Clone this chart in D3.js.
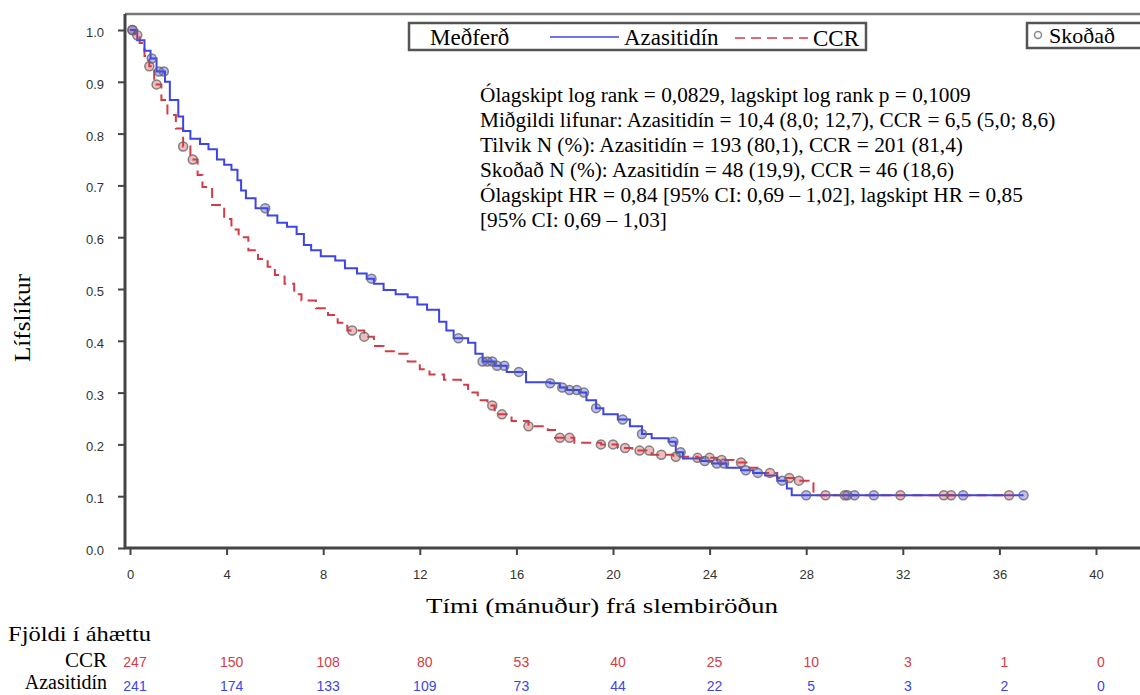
<!DOCTYPE html>
<html><head><meta charset="utf-8">
<script src="https://cdn.jsdelivr.net/npm/d3@7"></script>
<style>
html,body{margin:0;padding:0;background:#fff;}
svg{display:block;}
</style></head>
<body>
<svg id="chart" width="1140" height="695"></svg>
<script>
// ---------- data ----------
const azaTime = [0,0.3,0.6,0.85,1.1,1.45,1.65,2.0,2.2,2.5,2.9,3.25,3.6,3.9,4.2,4.45,4.6,4.8,5.2,5.7,6.1,6.5,6.9,7.2,7.5,7.9,8.5,8.9,9.4,9.8,10.1,10.5,11.0,11.5,11.9,12.3,12.8,13.1,13.4,14.0,14.3,14.6,15.1,15.6,16.4,17.4,17.8,18.1,18.6,18.9,19.3,19.6,20.2,20.7,21.2,21.6,22.3,22.6,22.9,23.6,24.1,24.7,25.3,25.8,26.3,26.8,27.2,27.4,37.0];
const azaSurv = [1.0,0.98,0.96,0.945,0.92,0.90,0.865,0.833,0.805,0.79,0.78,0.77,0.75,0.74,0.73,0.71,0.69,0.675,0.656,0.642,0.628,0.62,0.606,0.585,0.575,0.563,0.555,0.54,0.53,0.52,0.51,0.498,0.49,0.484,0.47,0.46,0.437,0.42,0.405,0.396,0.375,0.36,0.352,0.34,0.32,0.318,0.31,0.305,0.30,0.285,0.27,0.258,0.248,0.235,0.22,0.212,0.205,0.185,0.173,0.168,0.163,0.155,0.15,0.145,0.14,0.13,0.115,0.102,0.102];
const ccrTime = [0,0.2,0.4,0.6,0.8,1.0,1.3,1.55,1.9,2.2,2.5,2.8,3.0,3.4,3.9,4.2,4.5,4.9,5.3,5.7,6.0,6.4,6.8,7.1,7.7,8.2,8.6,9.0,9.7,10.1,10.5,11.0,11.5,12.0,12.4,13.0,13.7,14.0,14.4,14.8,15.1,15.8,16.5,17.3,17.6,18.4,19.5,20.2,20.8,21.6,22.5,23.5,24.3,25.0,25.6,26.1,26.8,27.5,28.1,28.3,36.4];
const ccrSurv = [1.0,0.99,0.975,0.95,0.93,0.895,0.865,0.836,0.81,0.775,0.75,0.72,0.697,0.662,0.635,0.615,0.60,0.575,0.558,0.543,0.527,0.51,0.49,0.478,0.463,0.45,0.435,0.42,0.408,0.39,0.38,0.375,0.36,0.345,0.335,0.325,0.315,0.30,0.285,0.275,0.258,0.245,0.235,0.228,0.213,0.203,0.20,0.193,0.188,0.18,0.176,0.174,0.17,0.165,0.155,0.145,0.135,0.13,0.125,0.102,0.102];
const azaCensor = [0.1,0.9,1.2,1.4,5.6,10.0,13.6,14.6,14.8,15.0,15.2,15.5,16.1,17.4,17.9,18.2,18.5,18.8,19.3,20.4,21.2,22.5,22.8,23.8,24.3,24.6,25.5,26.0,27.0,28.0,29.7,30.0,30.8,34.5,37.0];
const ccrCensor = [0.1,0.3,0.8,1.1,2.2,2.6,9.2,9.7,15.0,15.4,16.5,17.8,18.2,19.5,20.0,20.5,21.1,21.5,22.0,22.6,23.5,24.0,24.5,25.3,26.5,27.3,27.7,28.8,29.6,31.9,33.7,34.0,36.4];
const xTicks = [0,4,8,12,16,20,24,28,32,36,40];
const yTicks = [0,0.1,0.2,0.3,0.4,0.5,0.6,0.7,0.8,0.9,1.0];
const riskCCR = [247,150,108,80,53,40,25,10,3,1,0];
const riskAza = [241,174,133,109,73,44,22,5,3,2,0];
const statLines = [
  "Ólagskipt log rank = 0,0829, lagskipt log rank p = 0,1009",
  "Miðgildi lifunar: Azasitidín = 10,4 (8,0; 12,7), CCR = 6,5 (5,0; 8,6)",
  "Tilvik N (%): Azasitidín = 193 (80,1), CCR = 201 (81,4)",
  "Skoðað N (%): Azasitidín = 48 (19,9), CCR = 46 (18,6)",
  "Ólagskipt HR = 0,84 [95% CI: 0,69 – 1,02], lagskipt HR = 0,85",
  "[95% CI: 0,69 – 1,03]"
];

// ---------- drawing ----------
const SERIF = "'Liberation Serif','Times New Roman','DejaVu Serif',serif";
const SANS = "'Liberation Sans',Arial,'DejaVu Sans',sans-serif";
const BLUE = "#3d45e6", RED = "#d23c46";
const svg = d3.select("#chart");
const x = d3.scaleLinear().domain([0,40]).range([130,1096]);
const y = d3.scaleLinear().domain([0,1]).range([548,30]);

function survAt(times, surv, t){
  const i = d3.bisectRight(times, t) - 1;
  return surv[Math.max(0, i)];
}
function stext(sel){ return sel.style("font-family", SERIF).attr("fill","#000"); }

// axes
const yAxis = svg.append("g").attr("transform","translate(125,0)")
  .call(d3.axisLeft(y).tickValues(yTicks).tickFormat(d3.format(".1f")).tickSize(7).tickPadding(14));
const xAxis = svg.append("g").attr("transform","translate(0,548)")
  .call(d3.axisBottom(x).tickValues(xTicks).tickSize(7).tickPadding(15));
[yAxis,xAxis].forEach(g=>{
  g.select(".domain").remove();
  g.selectAll(".tick line").attr("stroke","#444").attr("stroke-width",2);
  g.selectAll(".tick text").style("font-family",SANS).attr("font-size",13).attr("fill","#333");
});
yAxis.selectAll(".tick text").attr("dy","0.5em");

// frame
svg.append("line").attr("x1",125).attr("y1",14).attr("x2",1140).attr("y2",14).attr("stroke","#777").attr("stroke-width",2.5);
svg.append("line").attr("x1",125).attr("y1",14).attr("x2",125).attr("y2",549).attr("stroke","#444").attr("stroke-width",3);
svg.append("line").attr("x1",124).attr("y1",548).attr("x2",1140).attr("y2",548).attr("stroke","#444").attr("stroke-width",3);

// curves
const line = d3.line().x(d=>x(d[0])).y(d=>y(d[1])).curve(d3.curveStepAfter);
svg.append("path").datum(ccrTime.map((t,i)=>[t,ccrSurv[i]]))
  .attr("d",line).attr("fill","none").attr("stroke",RED).attr("stroke-width",2).attr("stroke-dasharray","10,6");
svg.append("path").datum(azaTime.map((t,i)=>[t,azaSurv[i]]))
  .attr("d",line).attr("fill","none").attr("stroke",BLUE).attr("stroke-width",2);

// censor marks
function censor(times, surv, cens, col){
  svg.append("g").selectAll("circle").data(cens).join("circle")
    .attr("cx",d=>x(d)).attr("cy",d=>y(survAt(times,surv,d)))
    .attr("r",4.5).attr("fill",col).attr("fill-opacity",0.35)
    .attr("stroke","#666").attr("stroke-opacity",0.8).attr("stroke-width",1.5);
}
censor(ccrTime, ccrSurv, ccrCensor, RED);
censor(azaTime, azaSurv, azaCensor, BLUE);

// legend
svg.append("rect").attr("x",409).attr("y",23).attr("width",457).attr("height",27)
  .attr("fill","#fff").attr("stroke","#555").attr("stroke-width",2.5);
stext(svg.append("text")).attr("x",430).attr("y",45).attr("font-size",23).text("Meðferð");
svg.append("line").attr("x1",550).attr("x2",619).attr("y1",37).attr("y2",37).attr("stroke",BLUE).attr("stroke-width",1.5);
stext(svg.append("text")).attr("x",624).attr("y",45).attr("font-size",23).text("Azasitidín");
svg.append("line").attr("x1",735).attr("x2",808).attr("y1",38).attr("y2",38).attr("stroke",RED).attr("stroke-width",1.5).attr("stroke-dasharray","10,6");
stext(svg.append("text")).attr("x",813).attr("y",46).attr("font-size",23).text("CCR");

svg.append("rect").attr("x",1027).attr("y",23).attr("width",130).attr("height",25)
  .attr("fill","#fff").attr("stroke","#555").attr("stroke-width",2.5);
svg.append("circle").attr("cx",1038).attr("cy",35).attr("r",3.5).attr("fill","none").attr("stroke","#888").attr("stroke-width",1.5);
stext(svg.append("text")).attr("x",1049).attr("y",43).attr("font-size",22).text("Skoðað");

// stats text
stext(svg.append("g").selectAll("text").data(statLines).join("text"))
  .attr("x",480).attr("y",(d,i)=>102+i*25)
  .attr("font-size",21.3).text(d=>d);

// axis titles
stext(svg.append("text")).attr("x",426).attr("y",613)
  .attr("font-size",22).attr("textLength",352).attr("lengthAdjust","spacingAndGlyphs")
  .text("Tími (mánuður) frá slembiröðun");
stext(svg.append("text")).attr("transform","translate(30,362) rotate(-90)")
  .attr("font-size",23).attr("textLength",88).attr("lengthAdjust","spacingAndGlyphs").text("Lífslíkur");

// risk table
stext(svg.append("text")).attr("x",8).attr("y",641).attr("font-size",21)
  .attr("textLength",143).attr("lengthAdjust","spacingAndGlyphs").text("Fjöldi í áhættu");
stext(svg.append("text")).attr("x",107).attr("y",667).attr("text-anchor","end").attr("font-size",21).text("CCR");
stext(svg.append("text")).attr("x",107).attr("y",689).attr("text-anchor","end").attr("font-size",20).text("Azasitidín");
svg.append("g").selectAll("text").data(riskCCR).join("text")
  .style("font-family",SANS).attr("x",(d,i)=>x(xTicks[i])+5).attr("y",667).attr("text-anchor","middle")
  .attr("font-size",14).attr("fill",RED).text(d=>d);
svg.append("g").selectAll("text").data(riskAza).join("text")
  .style("font-family",SANS).attr("x",(d,i)=>x(xTicks[i])+5).attr("y",691).attr("text-anchor","middle")
  .attr("font-size",14).attr("fill",BLUE).text(d=>d);
</script>
</body></html>
